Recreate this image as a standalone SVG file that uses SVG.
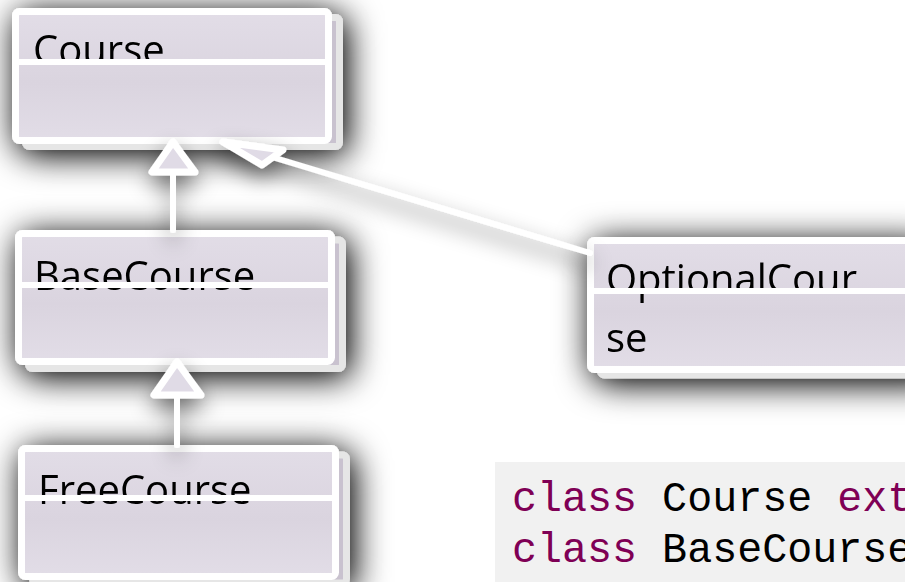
<svg xmlns="http://www.w3.org/2000/svg" width="905" height="582" viewBox="0 0 905 582">
<style>
.back{fill:#c9c2cf;stroke:#e6e6e6;stroke-width:7}
.card{fill:url(#lav);stroke:#ffffff;stroke-width:7}
.div{fill:#ffffff}
.lbl{font-family:"Open Sans","Noto Sans",sans-serif;font-size:40px;fill:#000000}
.edge{stroke:#ffffff;stroke-width:6;fill:none;stroke-linecap:round}
.head{fill:#e0dbe6;stroke:#ffffff;stroke-width:7;stroke-linejoin:round}
.code{font-family:"Liberation Mono","Courier New",monospace;font-size:41.7px;fill:#000000;white-space:pre}
.kw{fill:#7f0055}
</style>
<defs>
<linearGradient id="lav" x1="0" y1="0" x2="0" y2="1">
<stop offset="0" stop-color="#e2dde7"/>
<stop offset="0.55" stop-color="#dad4df"/>
<stop offset="1" stop-color="#e2dde7"/>
</linearGradient>
<filter id="ds" x="-35%" y="-60%" width="170%" height="220%">
<feGaussianBlur in="SourceAlpha" stdDeviation="17"/>
<feOffset dx="4" dy="5"/>
<feComponentTransfer><feFuncA type="linear" slope="1.1"/></feComponentTransfer>
<feMerge><feMergeNode/><feMergeNode in="SourceGraphic"/></feMerge>
</filter>
<filter id="es" x="-20%" y="-50%" width="140%" height="200%">
<feGaussianBlur in="SourceAlpha" stdDeviation="11"/>
<feOffset dy="10"/>
<feComponentTransfer><feFuncA type="linear" slope="0.55"/></feComponentTransfer>
<feMerge><feMergeNode/><feMergeNode in="SourceGraphic"/></feMerge>
</filter>
</defs>
<rect width="905" height="582" fill="#ffffff"/>

<g id="Course" filter="url(#ds)">
<rect class="back" x="25.5" y="17.5" width="314" height="129" rx="4"/>
<rect class="card" x="15.5" y="11.5" width="313" height="129" rx="4"/>
<text class="lbl" x="33" y="64">Course</text>
<rect class="div" x="14" y="59" width="316" height="6"/>
</g>

<g id="BaseCourse" filter="url(#ds)">
<rect class="back" x="28.5" y="240" width="314" height="128.5" rx="4"/>
<rect class="card" x="18.5" y="233.5" width="313" height="128" rx="4"/>
<text class="lbl" x="34" y="290">BaseCourse</text>
<rect class="div" x="17" y="282" width="316" height="6"/>
</g>

<g id="FreeCourse" filter="url(#ds)">
<rect class="back" x="32.5" y="455" width="314" height="128" rx="4"/>
<rect class="card" x="21.5" y="448.5" width="314" height="128" rx="4"/>
<text class="lbl" x="38" y="504">FreeCourse</text>
<rect class="div" x="20" y="495" width="317" height="6"/>
</g>

<g id="OptionalCourse" filter="url(#ds)">
<rect class="back" x="600.5" y="247" width="330" height="128" rx="4"/>
<rect class="card" x="590.5" y="240.5" width="330" height="129" rx="4"/>
<text class="lbl" x="606" y="293">OptionalCour</text>
<rect class="div" x="589" y="288" width="330" height="6"/>
<text class="lbl" x="606" y="352">se</text>
</g>

<g id="connectors" filter="url(#es)">
<line class="edge" x1="173" y1="172" x2="173" y2="230"/>
<polygon class="head" points="173,142 152,172 195,172"/>
<line class="edge" x1="177" y1="395" x2="177" y2="445"/>
<polygon class="head" points="177,362 154,395 201,395"/>
<line class="edge" x1="272" y1="157" x2="590" y2="253"/>
<polygon class="head" points="223,142 283,150 262,165"/>
</g>

<g id="code">
<rect x="495" y="462" width="410" height="120" fill="#f1f1f1"/>
<text class="code" x="512" y="511"><tspan class="kw">class</tspan> Course <tspan class="kw">ext</tspan></text>
<text class="code" x="512" y="562"><tspan class="kw">class</tspan> BaseCourse</text>
</g>
</svg>
